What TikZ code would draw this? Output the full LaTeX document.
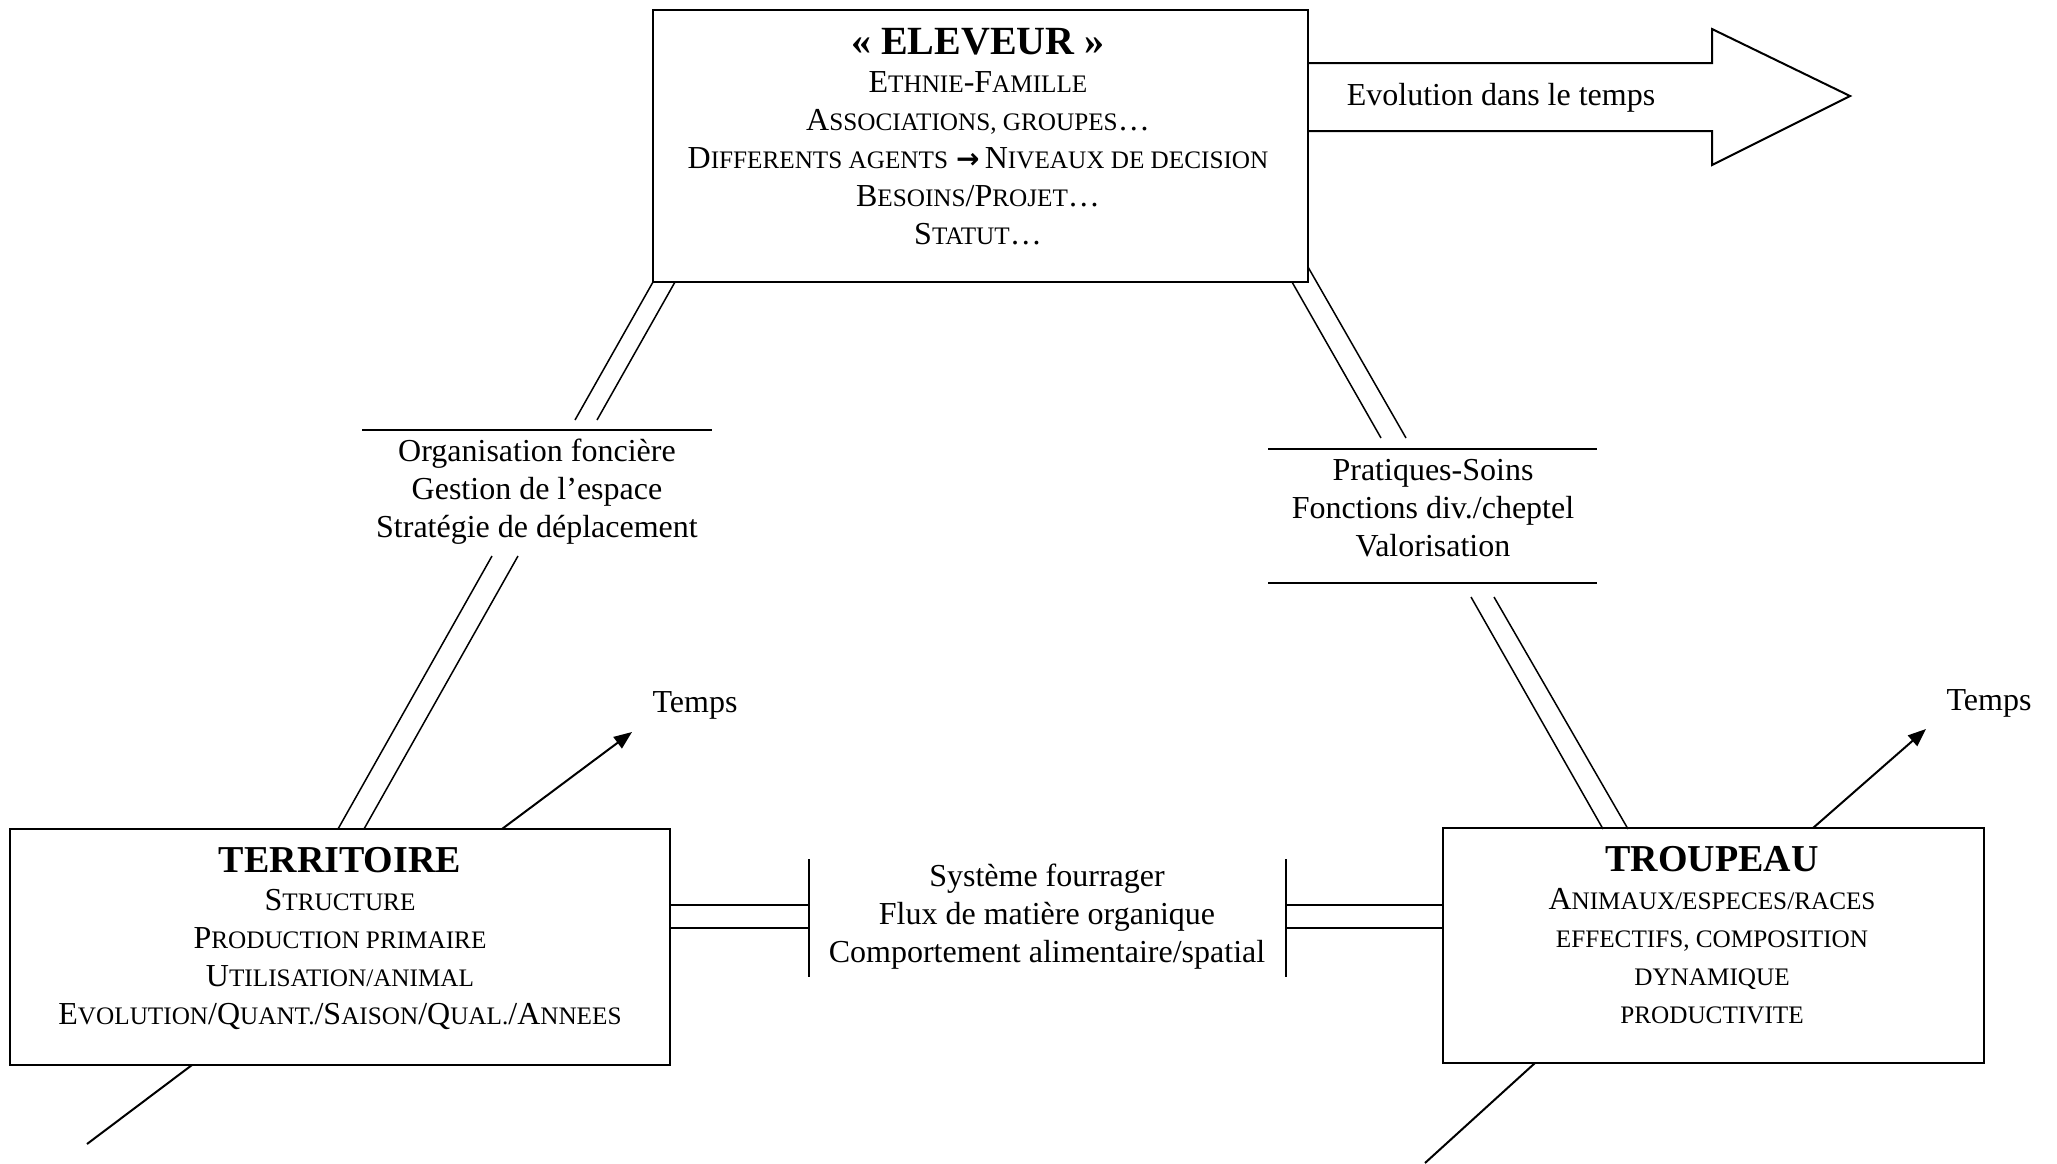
\documentclass[tikz,border=0pt]{standalone}
\usepackage{fontspec}
\setmainfont{Liberation Serif}
\newfontfamily\dvsans{DejaVu Sans}
\usetikzlibrary{arrows.meta}
\newcommand\sm[1]{{\fontsize{12.6}{19}\selectfont #1}}
\begin{document}
\begin{tikzpicture}[x=0.5pt,y=-0.5pt,
  box/.style={draw, line width=1pt, inner sep=0pt},
  txt/.style={font=\fontsize{16}{19}\selectfont, align=center, inner sep=0pt},
  dbl/.style={line width=0.75pt},
  rule/.style={line width=0.9pt},
  tarrow/.style={line width=1pt, -{Triangle[length=9pt,width=7pt]}}]
\useasboundingbox (0,0) rectangle (2057,1163);

% main boxes
\node[box, minimum width=327.5pt, minimum height=136pt] (eleveur) at (980.5,146) {};
\node[box, minimum width=330pt, minimum height=118pt] (territoire) at (340,947) {};
\node[box, minimum width=270.5pt, minimum height=117.5pt] (troupeau) at (1713.5,945.5) {};

% box texts
\node[txt, anchor=north] (eleveurtxt) at (978,28) {{\fontsize{20}{24}\selectfont\bfseries «~ELEVEUR~»}\\
E\sm{THNIE}-F\sm{AMILLE}\\
A\sm{SSOCIATIONS, GROUPES}…\\
D\sm{IFFERENTS AGENTS} {\dvsans\bfseries\fontsize{14}{19}\selectfont →}\,N\sm{IVEAUX DE DECISION}\\
B\sm{ESOINS}/P\sm{ROJET}…\\
S\sm{TATUT}…};
\node[txt, anchor=north] (territoiretxt) at (340,847) {{\fontsize{19}{24}\selectfont\bfseries TERRITOIRE}\\
S\sm{TRUCTURE}\\
P\sm{RODUCTION PRIMAIRE}\\
U\sm{TILISATION/ANIMAL}\\
E\sm{VOLUTION}/Q\sm{UANT.}/S\sm{AISON}/Q\sm{UAL.}/A\sm{NNEES}};
\node[txt, anchor=north] (troupeautxt) at (1712,846) {{\fontsize{19}{24}\selectfont\bfseries TROUPEAU}\\
A\sm{NIMAUX/ESPECES/RACES}\\
\sm{EFFECTIFS, COMPOSITION}\\
\sm{DYNAMIQUE}\\
\sm{PRODUCTIVITE}};

% evolution arrow
\draw[line width=1pt] (eleveur.east |- 0,63) -- (1712,63) -- (1712,29) -- (1850,96) -- (1712,165) -- (1712,131) -- (eleveur.east |- 0,131);
\node[txt] (evol) at (1501,98) {Evolution dans le temps};

% left label (eleveur - territoire)
\coordinate (lrA) at (362,430);
\coordinate (lrB) at (712,430);
\draw[rule] (lrA) -- (lrB);
\node[txt] (lefttxt) at (537,492) {Organisation foncière\\Gestion de l’espace\\Stratégie de déplacement};
\coordinate (l1a) at (653,282); \coordinate (l1b) at (575,420);
\coordinate (l2a) at (675,282); \coordinate (l2b) at (597,420);
\draw[dbl] (l1a) -- (l1b);
\draw[dbl] (l2a) -- (l2b);
\coordinate (l3a) at (492,556); \coordinate (l3b) at (338,829);
\coordinate (l4a) at (518,556); \coordinate (l4b) at (364,829);
\draw[dbl] (l3a) -- (l3b);
\draw[dbl] (l4a) -- (l4b);

% right label (eleveur - troupeau)
\coordinate (rrA) at (1268,449); \coordinate (rrB) at (1597,449);
\coordinate (rrC) at (1268,583); \coordinate (rrD) at (1597,583);
\draw[rule] (rrA) -- (rrB);
\draw[rule] (rrC) -- (rrD);
\node[txt] (righttxt) at (1433,508) {Pratiques-Soins\\Fonctions div./cheptel\\Valorisation};
\coordinate (r1a) at (1292,282); \coordinate (r1b) at (1381,438);
\coordinate (r2a) at (1308,267); \coordinate (r2b) at (1406,438);
\draw[dbl] (r1a) -- (r1b);
\draw[dbl] (r2a) -- (r2b);
\coordinate (r3a) at (1471,597); \coordinate (r3b) at (1603,829);
\coordinate (r4a) at (1494,597); \coordinate (r4b) at (1628,829);
\draw[dbl] (r3a) -- (r3b);
\draw[dbl] (r4a) -- (r4b);

% middle label (territoire - troupeau)
\coordinate (mbL1) at (809,859); \coordinate (mbL2) at (809,977);
\coordinate (mbR1) at (1286,859); \coordinate (mbR2) at (1286,977);
\draw[rule] (mbL1) -- (mbL2);
\draw[rule] (mbR1) -- (mbR2);
\node[txt] (midtxt) at (1047,917) {Système fourrager\\Flux de matière organique\\Comportement alimentaire/spatial};
\draw[dbl] (territoire.east |- 0,905) -- (mbL1 |- 0,905);
\draw[dbl] (territoire.east |- 0,928) -- (mbL1 |- 0,928);
\draw[dbl] (mbR1 |- 0,905) -- (troupeau.west |- 0,905);
\draw[dbl] (mbR1 |- 0,928) -- (troupeau.west |- 0,928);

% time arrows
\coordinate (t1s) at (502,829); \coordinate (t1e) at (632,732);
\draw[tarrow] (t1s) -- (t1e);
\node[txt] (temps1) at (695,705) {Temps};
\coordinate (t2s) at (1813,828); \coordinate (t2e) at (1926,729);
\draw[tarrow] (t2s) -- (t2e);
\node[txt] (temps2) at (1989,703) {Temps};

% lower lines
\coordinate (b1s) at (192,1065); \coordinate (b1e) at (87,1144);
\draw[line width=1pt] (b1s) -- (b1e);
\coordinate (b2s) at (1535,1063); \coordinate (b2e) at (1425,1163);
\draw[line width=1pt] (b2s) -- (b2e);
\end{tikzpicture}
\end{document}
